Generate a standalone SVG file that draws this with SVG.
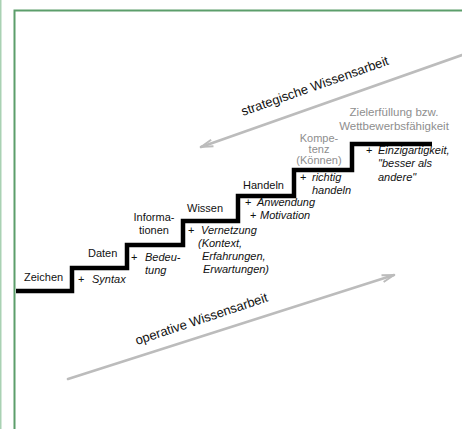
<svg xmlns="http://www.w3.org/2000/svg" width="462" height="429" viewBox="0 0 462 429">
<defs>
<style>
text{font-family:"Liberation Sans",Arial,sans-serif;font-size:11px;fill:#111}
.g{fill:#8e8e8e}
.i{font-style:italic}
.big{font-size:13px}
.arr{stroke:#bcbcbc;stroke-width:2.6;fill:none;stroke-linecap:round}
.stair{stroke:#000;stroke-width:4.5;fill:none;stroke-linejoin:miter}
</style>
<marker id="ah" viewBox="0 0 14 10" refX="13" refY="5" markerWidth="14" markerHeight="10" markerUnits="userSpaceOnUse" orient="auto">
<path d="M1,1.5 L13,5 L1,8.5" fill="none" stroke="#bcbcbc" stroke-width="2"/>
</marker>
</defs>
<rect width="462" height="429" fill="#fff"/>
<rect x="0" y="0" width="1.5" height="429" fill="#a9d1b3"/>
<path d="M14.5,429 V10.5 H462" fill="none" stroke="#5c9e6b" stroke-width="2"/>

<g id="connectors">
<path class="stair" d="M16,291 H72 V268 H127 V245 H183 V221 H238 V196 H294 V170 H352 V144 H432"/>
<line class="arr" x1="462" y1="55" x2="201" y2="147" marker-end="url(#ah)"/>
<line class="arr" x1="68" y1="379" x2="394" y2="275" marker-end="url(#ah)"/>
</g>

<g id="label-strategisch"><text class="big" transform="translate(243,116) rotate(-19.4)">strategische Wissensarbeit</text></g>
<g id="label-operativ"><text class="big" transform="translate(137,345) rotate(-18.4)">operative Wissensarbeit</text></g>

<g id="zeichen"><text x="24" y="281">Zeichen</text></g>
<g id="syntax"><text x="78" y="283">+</text><text class="i" x="92" y="283">Syntax</text></g>
<g id="daten"><text x="88" y="257">Daten</text></g>
<g id="bedeutung"><text x="131" y="261">+</text><text class="i" x="145" y="261">Bedeu-</text><text class="i" x="145" y="274">tung</text></g>
<g id="informationen"><text x="154" y="221" text-anchor="middle">Informa-</text><text x="154" y="234" text-anchor="middle">tionen</text></g>
<g id="wissen"><text x="187" y="212">Wissen</text></g>
<g id="vernetzung"><text x="188" y="234">+</text><text class="i" x="201" y="234">Vernetzung</text><text class="i" x="198" y="247">(Kontext,</text><text class="i" x="202" y="260">Erfahrungen,</text><text class="i" x="203" y="273">Erwartungen)</text></g>
<g id="handeln"><text x="243" y="189">Handeln</text></g>
<g id="anwendung"><text x="245" y="206">+</text><text class="i" x="257" y="206">Anwendung</text><text x="250" y="219">+</text><text class="i" x="260" y="219">Motivation</text></g>
<g id="kompetenz"><text class="g" x="319" y="142" text-anchor="middle">Kompe-</text><text class="g" x="319" y="153" text-anchor="middle">tenz</text><text class="g" x="319" y="164" text-anchor="middle">(Können)</text></g>
<g id="richtig"><text x="300" y="181">+</text><text class="i" x="312" y="181">richtig</text><text class="i" x="312" y="194">handeln</text></g>
<g id="ziel"><text class="g" x="394" y="116" text-anchor="middle" style="font-size:11.5px">Zielerfüllung bzw.</text><text class="g" x="394" y="130" text-anchor="middle" style="font-size:11.5px">Wettbewerbsfähigkeit</text></g>
<g id="einzigartigkeit"><text x="366" y="154">+</text><text class="i" x="378" y="154">Einzigartigkeit,</text><text class="i" x="378" y="167">"besser als</text><text class="i" x="378" y="181">andere"</text></g>
</svg>
